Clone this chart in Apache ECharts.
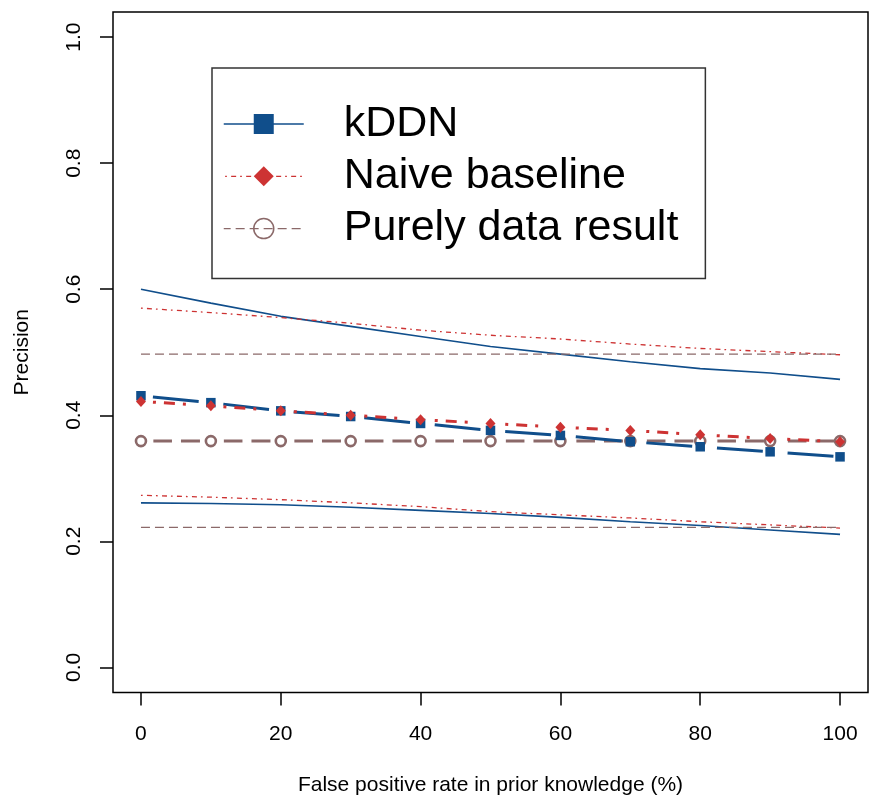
<!DOCTYPE html>
<html>
<head>
<meta charset="utf-8">
<script src="https://cdn.jsdelivr.net/npm/echarts@6/dist/echarts.min.js"></script>
<style>
html,body{margin:0;padding:0;background:#fff;}
#chart{width:870px;height:802px;}
</style>
</head>
<body>
<div id="chart"></div>
<script>
const xValues = [0, 10, 20, 30, 40, 50, 60, 70, 80, 90, 100];
const xTicks = [0, 20, 40, 60, 80, 100];
const yTicks = [0, 0.2, 0.4, 0.6, 0.8, 1.0];

const kddn        = [0.431, 0.420, 0.407, 0.398, 0.387, 0.376, 0.368, 0.358, 0.350, 0.342, 0.334];
const naive       = [0.422, 0.415, 0.407, 0.400, 0.393, 0.387, 0.381, 0.376, 0.369, 0.363, 0.358];
const purely      = [0.359, 0.359, 0.359, 0.359, 0.359, 0.359, 0.359, 0.359, 0.359, 0.359, 0.359];

const kddnUpper   = [0.600, 0.578, 0.557, 0.541, 0.525, 0.509, 0.497, 0.485, 0.474, 0.467, 0.457];
const naiveUpper  = [0.570, 0.563, 0.555, 0.546, 0.535, 0.527, 0.521, 0.513, 0.506, 0.501, 0.496];
const purelyUpper = [0.497, 0.497, 0.497, 0.497, 0.497, 0.497, 0.497, 0.497, 0.497, 0.497, 0.497];

const kddnLower   = [0.261, 0.260, 0.258, 0.254, 0.249, 0.244, 0.238, 0.231, 0.225, 0.218, 0.211];
const naiveLower  = [0.273, 0.270, 0.266, 0.261, 0.255, 0.247, 0.242, 0.237, 0.231, 0.226, 0.221];
const purelyLower = [0.222, 0.222, 0.222, 0.222, 0.222, 0.222, 0.222, 0.222, 0.222, 0.222, 0.222];

const names = ['kDDN', 'Naive baseline', 'Purely data result'];
const BLUE = '#104E8B', RED = '#CD3333', BROWN = '#8B6969';
const FONT = '"Liberation Sans", Arial, Helvetica, sans-serif';

const pairs = a => xValues.map((x, i) => [x, a[i]]);

function bound(name, data, color, type, width) {
  return {
    name: name, type: 'line', data: pairs(data), symbol: 'none',
    lineStyle: { color: color, width: width, type: type, cap: 'butt' },
    silent: true, z: 2
  };
}

const option = {
  animation: false,
  backgroundColor: '#fff',
  textStyle: { fontFamily: FONT, color: '#000' },
  grid: {
    left: 113, top: 12, right: 2, bottom: 109.5,
    show: true, borderColor: '#000', borderWidth: 1.5, backgroundColor: 'transparent'
  },
  xAxis: {
    type: 'value', min: -4, max: 104,
    name: 'False positive rate in prior knowledge (%)',
    nameLocation: 'middle', nameGap: 82,
    nameTextStyle: { fontSize: 21, color: '#000', fontFamily: FONT },
    axisLine: { show: false, onZero: false },
    axisTick: { show: true, inside: false, length: 13, customValues: xTicks, lineStyle: { color: '#000', width: 1.5 } },
    axisLabel: { show: true, customValues: xTicks, fontSize: 21, color: '#000', margin: 31, fontFamily: FONT },
    splitLine: { show: false }
  },
  yAxis: {
    type: 'value', min: -0.04, max: 1.04,
    name: 'Precision',
    nameLocation: 'middle', nameGap: 80, nameRotate: 90,
    nameTextStyle: { fontSize: 21, color: '#000', fontFamily: FONT },
    axisLine: { show: false, onZero: false },
    axisTick: { show: true, inside: false, length: 13, customValues: yTicks, lineStyle: { color: '#000', width: 1.5 } },
    axisLabel: {
      show: true, customValues: yTicks, fontSize: 21, color: '#000', margin: 28, rotate: 90,
      fontFamily: FONT, formatter: v => v.toFixed(1)
    },
    splitLine: { show: false }
  },
  legend: {
    orient: 'vertical',
    left: 212, top: 68,
    padding: [34.5, 27, 28.5, 11],
    borderColor: '#333', borderWidth: 1.5, backgroundColor: '#fff',
    itemWidth: 80, itemHeight: 25, itemGap: 9.3,
    selectedMode: false,
    formatter: n => '{t|' + n + '}',
    textStyle: {
      fontFamily: FONT, color: '#000', fontSize: 43,
      rich: { t: { fontFamily: FONT, color: '#000', fontSize: 43, padding: [0, 0, 0, 35] } }
    },
    data: [
      { name: names[0],
        itemStyle: { color: BLUE, borderWidth: 0 },
        lineStyle: { color: BLUE, width: 1.5, type: 'solid' } },
      { name: names[1],
        itemStyle: { color: RED, borderWidth: 0 },
        lineStyle: { color: RED, width: 1.2, type: [1.7, 4.3, 5, 4] } },
      { name: names[2],
        itemStyle: { color: 'rgba(255,255,255,0)', borderColor: BROWN, borderWidth: 1.5 },
        lineStyle: { color: BROWN, width: 1.2, type: [9, 5] } }
    ]
  },
  series: [
    bound('kDDN upper', kddnUpper, BLUE, 'solid', 1.6),
    bound('Naive upper', naiveUpper, RED, [1.7, 4.3, 5, 4], 1.3),
    bound('Purely upper', purelyUpper, BROWN, [9, 5], 1.3),
    bound('kDDN lower', kddnLower, BLUE, 'solid', 1.6),
    bound('Naive lower', naiveLower, RED, [1.7, 4.3, 5, 4], 1.3),
    bound('Purely lower', purelyLower, BROWN, [9, 5], 1.3),
    {
      name: names[2], type: 'line', data: pairs(purely), z: 3,
      symbol: 'circle', symbolSize: 10,
      itemStyle: { color: '#fff', borderColor: BROWN, borderWidth: 2.6 },
      lineStyle: { color: BROWN, width: 3, type: [18.6, 9, 19, 23.9], dashOffset: 58.1, cap: 'butt' }
    },
    {
      name: names[0], type: 'line', data: pairs(kddn), z: 3,
      symbol: 'rect', symbolSize: 9.5,
      itemStyle: { color: BLUE, borderWidth: 0 },
      lineStyle: { color: BLUE, width: 3, type: [46, 24.8], dashOffset: 58.8, cap: 'butt' }
    },
    {
      name: names[1], type: 'line', data: pairs(naive), z: 3,
      symbol: 'diamond', symbolSize: [10, 11],
      itemStyle: { color: RED, borderWidth: 0 },
      lineStyle: { color: RED, width: 3, type: [3, 8, 11, 8, 3, 37.6], dashOffset: 58.6, cap: 'butt' }
    }
  ]
};

const chart = echarts.init(document.getElementById('chart'), null, { renderer: 'canvas' });
chart.setOption(option);
</script>
</body>
</html>
